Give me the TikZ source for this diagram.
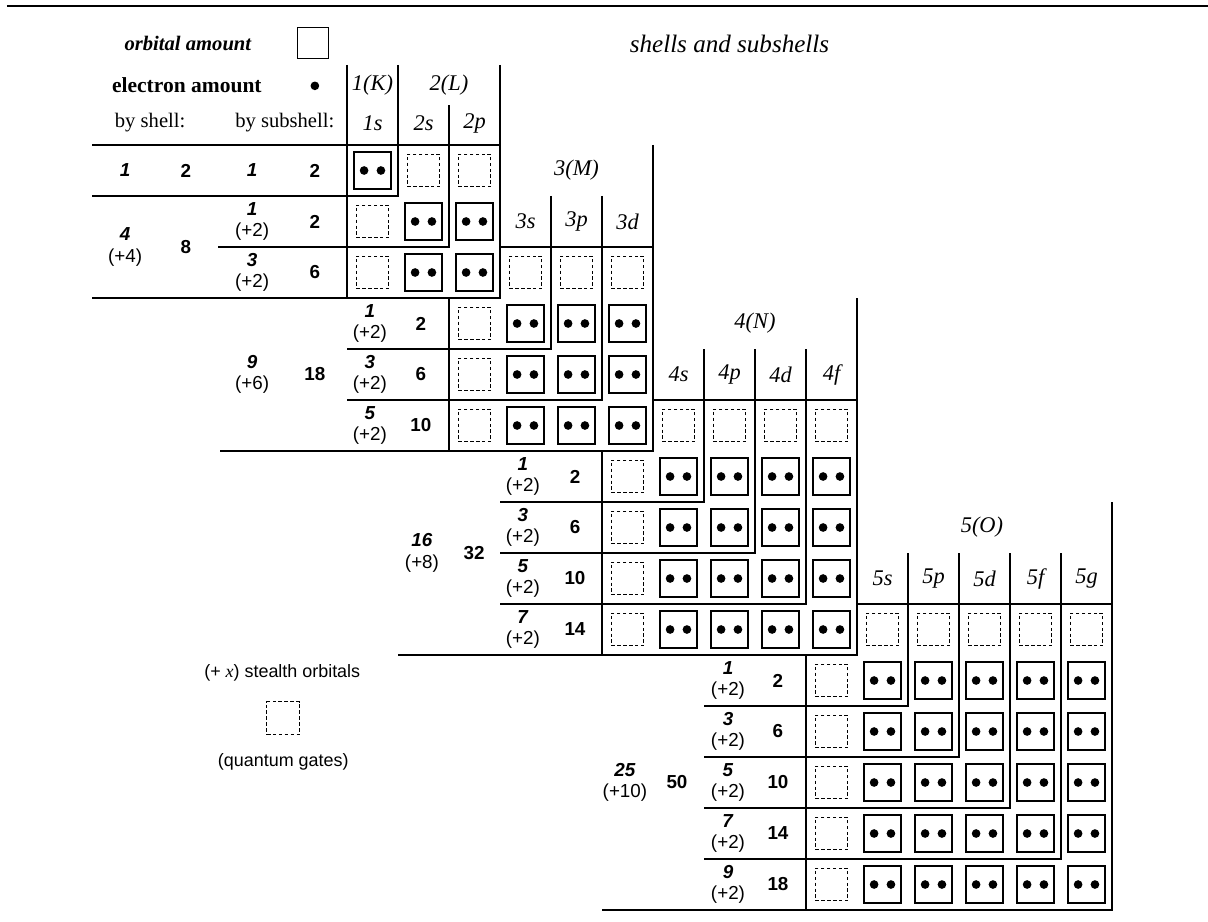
\documentclass[tikz,border=0pt]{standalone}
\usepackage{fontspec}
\setmainfont{Liberation Serif}
\setsansfont{Liberation Sans}
\usepackage{tikz}
\tikzstyle{wall}=[line width=1.4pt]
\tikzstyle{rule}=[line width=.6pt]
\tikzstyle{orb}=[draw,line width=.8pt,minimum size=.72cm,inner sep=0pt]
\tikzstyle{gate}=[draw,dash pattern=on 2pt off 1.3pt,line width=.55pt,minimum size=.64cm,inner sep=0pt]
\tikzstyle{head}=[font=\fontsize{12.5}{14}\selectfont\itshape]
\tikzstyle{num}=[font=\fontsize{10.5}{12}\selectfont\sffamily,align=center]
\tikzstyle{note}=[font=\fontsize{10}{12}\selectfont\sffamily]
\tikzstyle{key}=[font=\fontsize{11.5}{13}\selectfont]
\tikzstyle{keyb}=[font=\fontsize{12}{14}\selectfont\bfseries]
\tikzstyle{keyi}=[font=\fontsize{11.5}{13}\selectfont\bfseries\itshape]

\begin{document}
\begin{tikzpicture}
\useasboundingbox (-6.804,2.843) rectangle (16.882,-15.216);
\draw[wall] (-6.67,2.725) -- (16.882,2.725);
% legend
\node[keyi] (key-orbtext) at (-3.12,2) {orbital amount};
\node[orb,minimum size=.61cm] (key-orb) at (-.67,2) {};
\node[keyb] (key-eltext) at (-3.14,1.18) {electron amount};
\fill (-.63,1.16) circle (.085);
\node[key] (by-shell) at (-3.86,.43) {by shell:};
\node[key] (by-sub) at (-1.22,.43) {by subshell:};
\node[head,font=\fontsize{14}{16}\selectfont\itshape] (title) at (7.5,1.98) {shells and subshells};
\node[note] (key-stealth) at (-1.27,-10.35) {(+ {\rmfamily\itshape x}) stealth orbitals};
\node[gate] (key-gate) at (-1.25,-11.24) {};
\node[note] (key-qg) at (-1.25,-12.1) {(quantum gates)};

% frames
\draw[wall] (0,1.57) -- (0,-1);
\draw[wall] (1,1.57) -- (1,-1) -- (-5,-1);
\draw[wall] (-5,0) -- (1,0);
\foreach \f/\n/\tp/\lx/\bx/\vy in {1/2/1.57/-2.53/-5/.78, 3/3/0/0/-2.5/-1, 6/4/-3/3/1/-4, 10/5/-7/7/5/-8} {
  \pgfmathtruncatemacro\e{\f+\n}
  \pgfmathtruncatemacro\g{\f-1}
  \pgfmathtruncatemacro\m{\n-1}
  \foreach \k in {1,...,\m}
    \draw[rule] (\f+\k,\vy) -- (\f+\k,-\f-\k) -- (\lx,-\f-\k);
  \draw[wall] (\e,\tp) -- (\e,-\e) -- (\bx,-\e);
  \draw[wall] (\g,-\f) -- (\g,-\e);
  \draw[wall] (\f,-\g) -- (\e,-\g);
}

% headers
\node[head] (h-1) at (0.5,1.18) {1(K)};
\node[head] (h-2) at (2,1.18) {2(L)};
\node[head] (h-3) at (4.5,-.5) {3(M)};
\node[head] (h-4) at (8,-3.5) {4(N)};
\node[head] (h-5) at (12.45,-7.5) {5(O)};
\node[head] (h-1s) at (.5,.43) {1s};
\foreach \l [count=\k from 1] in {s,p} \node[head] (h-2\l) at (\k+.5,.43) {2\l};
\foreach \l [count=\k from 3] in {s,p,d} \node[head] (h-3\l) at (\k+.5,-1.5) {3\l};
\foreach \l [count=\k from 6] in {s,p,d,f} \node[head] (h-4\l) at (\k+.5,-4.5) {4\l};
\foreach \l [count=\k from 10] in {s,p,d,f,g} \node[head] (h-5\l) at (\k+.5,-8.5) {5\l};

% orbitals
\foreach \f/\n in {0/1,1/2,3/3,6/4,10/5}
  \foreach \i in {1,...,\n}
    \foreach \j in {1,...,\n} {
      \pgfmathtruncatemacro\cc{\f+\i-1}
      \pgfmathtruncatemacro\rr{\f+\j-1}
      \node[orb] (orb-\cc-\rr) at (\cc+.5,-\rr-.5) {};
      \fill (orb-\cc-\rr.center) ++(-.165,0) circle (.085) ++(.33,0) circle (.085);
    }
\foreach \f/\n in {1/2,3/3,6/4,10/5}
  \foreach \i in {1,...,\n} {
    \pgfmathtruncatemacro\cc{\f+\i-1}
    \pgfmathtruncatemacro\g{\f-1}
    \node[gate] (gate-\cc-\g) at (\cc+.5,-\g-.5) {};
    \node[gate] (gate-\g-\cc) at (\g+.5,-\cc-.5) {};
  }

% amounts
\node[num] (sho-1) at (-4.35,-.5) {\textbf{\textit{1}}};
\node[num] (she-1) at (-3.16,-.5) {\textbf{2}};
\node[num] (so-0-1) at (-1.86,-.5) {\textbf{\textit{1}}};
\node[num] (se-0-1) at (-.63,-.5) {\textbf{2}};
\foreach \n/\xa/\xb/\y in {2/-4.35/-3.16/-2, 3/-1.86/-.63/-4.5, 4/1.47/2.49/-8, 5/5.45/6.47/-12.5} {
  \pgfmathtruncatemacro\orbn{\n*\n}
  \pgfmathtruncatemacro\addn{2*\n}
  \pgfmathtruncatemacro\eln{2*\n*\n}
  \node[num] (sho-\n) at (\xa,\y) {\textbf{\textit{\orbn}}\\(+\addn)};
  \node[num] (she-\n) at (\xb,\y) {\textbf{\eln}};
}
\foreach \f/\n/\xa/\xb in {1/2/-1.86/-.63, 3/3/.45/1.45, 6/4/3.45/4.47, 10/5/7.47/8.45}
  \foreach \k in {1,...,\n} {
    \pgfmathtruncatemacro\orbn{2*\k-1}
    \pgfmathtruncatemacro\eln{4*\k-2}
    \node[num] (so-\f-\k) at (\xa,-\f-\k+.5) {\textbf{\textit{\orbn}}\\(+2)};
    \node[num] (se-\f-\k) at (\xb,-\f-\k+.5) {\textbf{\eln}};
  }
\end{tikzpicture}
\end{document}
